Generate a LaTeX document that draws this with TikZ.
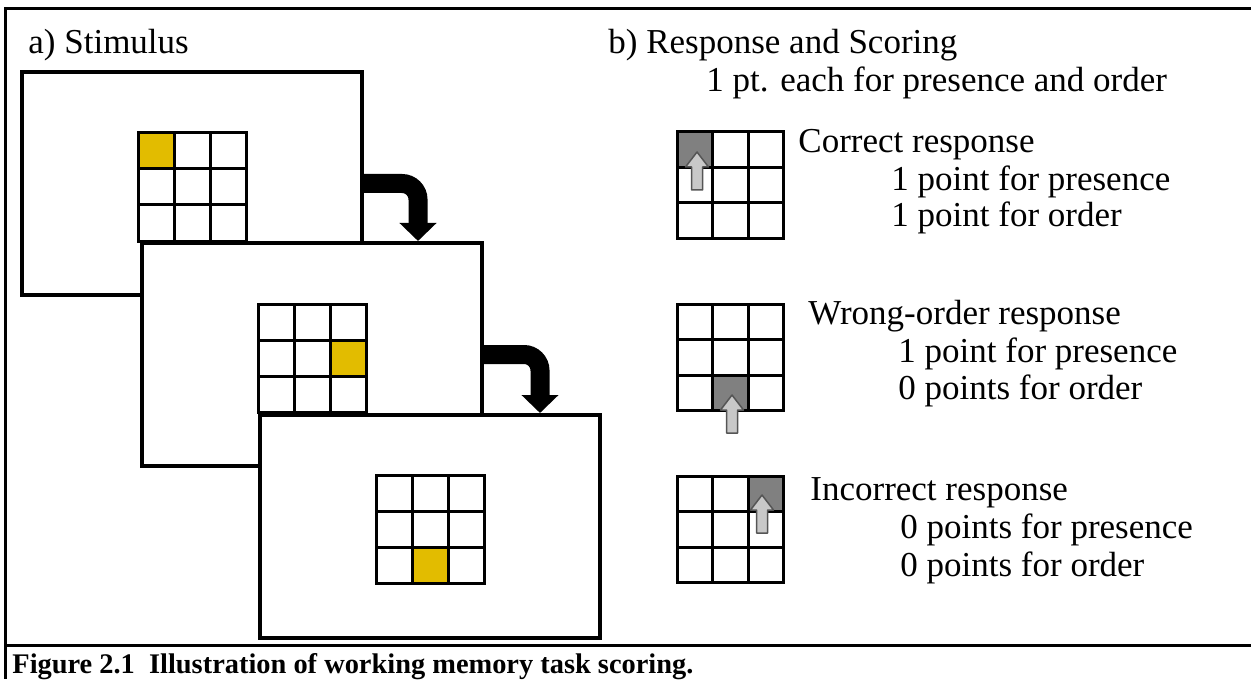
\documentclass[tikz,border=0pt]{standalone}
\usepackage{fontspec}
\setmainfont{Liberation Serif}
\usetikzlibrary{arrows.meta}
\definecolor{cellgold}{RGB}{226,188,0}
\definecolor{cellgray}{RGB}{128,128,128}
\definecolor{tipfill}{RGB}{200,200,200}
\definecolor{tipline}{RGB}{85,85,85}

\tikzset{
  pointer/.pic={
    \draw[tipline,fill=tipfill,line width=0.75pt,line join=round]
      (0,0)--(11.5,15)--(5.5,15)--(5.5,38)--(-5.5,38)--(-5.5,15)--(-11.5,15)--cycle;
  }
}

\begin{document}
\begin{tikzpicture}[x=0.5pt,y=-0.5pt,
  frame/.style={line width=1.5pt},
  screen/.style={draw,fill=white,line width=2pt,minimum width=170pt,minimum height=111.5pt,inner sep=0pt},
  gridline/.style={line width=1.5pt},
  turn/.style={line width=9.5pt,rounded corners=8pt,-{Triangle[length=9pt,width=18pt]}},
  txt/.style={anchor=base west,inner sep=0pt,font=\fontsize{17.5}{21}\selectfont},
  caption/.style={anchor=base west,inner sep=0pt,font=\fontsize{14.2}{17}\selectfont\bfseries}]
\useasboundingbox (0,0) rectangle (1251,679);

% outer frame
\draw[frame] (1251,9)--(5,9)--(5,679);
\draw[frame] (5,645)--(1251,645);

% a) stimulus screens
\node[screen] (s1) at (192,183.5) {};
\node[screen] (s2) at (312,354.5) {};
\node[screen] (s3) at (430,526.5) {};

\foreach \gx/\gy/\cx/\cy in {138/133/0/0,258/304/2/1,376/475/1/2}{
  \fill[cellgold] (\gx+36*\cx,\gy+36*\cy) rectangle ++(36,36);
  \draw[gridline] (\gx,\gy) rectangle ++(108,108);
  \foreach \k in {1,2}{
    \draw[gridline] (\gx+36*\k,\gy)--++(0,108);
    \draw[gridline] (\gx,\gy+36*\k)--++(108,0);
  }
}

\coordinate (t1) at (418,241);
\coordinate (t2) at (540,413);
\draw[turn] (s1.east) -| (t1);
\draw[turn] (s2.east) -| (t2);

% b) response grids
\foreach \gy/\cx/\cy/\px/\py in {132/0/0/20/20,304/1/2/55/91,476/2/0/85/19}{
  \fill[cellgray] (677+35.5*\cx,\gy+35.5*\cy) rectangle ++(35.5,35.5);
  \draw[gridline] (677,\gy) rectangle ++(106.5,106.5);
  \foreach \k in {1,2}{
    \draw[gridline] (677+35.5*\k,\gy)--++(0,106.5);
    \draw[gridline] (677,\gy+35.5*\k)--++(106.5,0);
  }
  \pic at (677+\px,\gy+\py) {pointer};
}

% labels
\node[txt] (stim) at (28,54) {a) Stimulus};
\node[txt] (resp) at (608,54) {b) Response and Scoring};
\node[txt] (rule) at (706,92) {1 pt. each for presence and order};
\node[txt] (c0) at (798,153) {Correct response};
\node[txt] (c1) at (891,191) {1 point for presence};
\node[txt] (c2) at (891,227) {1 point for order};
\node[txt] (w0) at (808,324) {Wrong-order response};
\node[txt] (w1) at (898,362) {1 point for presence};
\node[txt] (w2) at (898,399) {0 points for order};
\node[txt] (i0) at (810,500) {Incorrect response};
\node[txt] (i1) at (900,538) {0 points for presence};
\node[txt] (i2) at (900,576) {0 points for order};

\node[caption] (cap) at (12,673) {Figure 2.1\ \ Illustration of working memory task scoring.};
\end{tikzpicture}
\end{document}
